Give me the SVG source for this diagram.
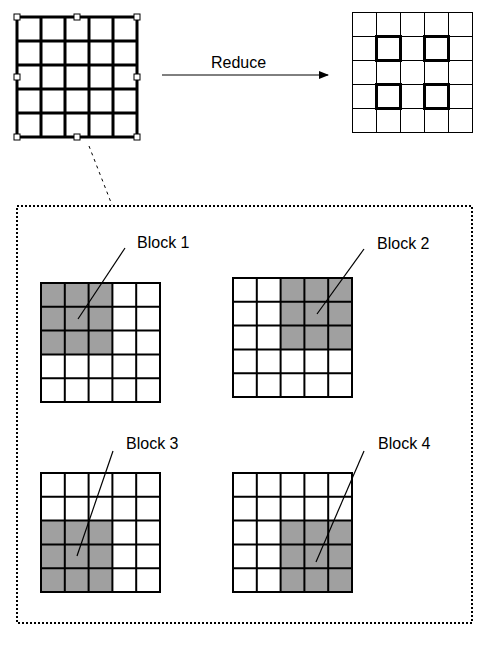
<svg xmlns="http://www.w3.org/2000/svg" xmlns:xlink="http://www.w3.org/1999/xlink" width="486" height="655" viewBox="0 0 486 655">
<style>
.lbl{font-family:"Liberation Sans",Arial,sans-serif;font-size:16px;fill:#000}
.g5{stroke:#000;stroke-width:2;fill:none}
.gray{fill:#a0a0a0;stroke:none}
.thin{stroke:#000;stroke-width:1;fill:none}
.bold{stroke:#000;stroke-width:3;fill:none}
.handle{fill:#fff;stroke:#000;stroke-width:1}
.lead{stroke:#000;stroke-width:1.2;fill:none}
</style>
<defs>
<g id="grid5" class="g5">
<rect x="0" y="0" width="119" height="119"/>
<path d="M23.8 0V119M47.6 0V119M71.4 0V119M95.2 0V119M0 23.8H119M0 47.6H119M0 71.4H119M0 95.2H119"/>
</g>
<marker id="arr" markerWidth="10" markerHeight="8" refX="9" refY="4" orient="auto" markerUnits="userSpaceOnUse">
<path d="M0 0L10 4L0 8Z" fill="#000"/>
</marker>
</defs>
<rect width="486" height="655" fill="#fff"/>

<g id="source-grid">
<rect x="17" y="17" width="120" height="120" fill="#fff" class="bold"/>
<path class="bold" d="M41 17V137M65 17V137M89 17V137M113 17V137M17 41H137M17 65H137M17 89H137M17 113H137"/>
<rect class="handle" x="14" y="14" width="6" height="6"/>
<rect class="handle" x="74" y="14" width="6" height="6"/>
<rect class="handle" x="134" y="14" width="6" height="6"/>
<rect class="handle" x="14" y="74" width="6" height="6"/>
<rect class="handle" x="134" y="74" width="6" height="6"/>
<rect class="handle" x="14" y="134" width="6" height="6"/>
<rect class="handle" x="74" y="134" width="6" height="6"/>
<rect class="handle" x="134" y="134" width="6" height="6"/>
</g>

<g id="reduced-grid">
<rect x="352.5" y="12.5" width="120" height="120" fill="#fff" class="thin"/>
<path class="thin" d="M376.5 12.5V132.5M400.5 12.5V132.5M424.5 12.5V132.5M448.5 12.5V132.5M352.5 36.5H472.5M352.5 60.5H472.5M352.5 84.5H472.5M352.5 108.5H472.5"/>
<rect class="bold" x="376.5" y="36.5" width="24" height="24"/>
<rect class="bold" x="424.5" y="36.5" width="24" height="24"/>
<rect class="bold" x="376.5" y="84.5" width="24" height="24"/>
<rect class="bold" x="424.5" y="84.5" width="24" height="24"/>
</g>

<g id="detail-box">
<rect x="17" y="206" width="455" height="417" fill="none" stroke="#000" stroke-width="2" stroke-dasharray="2 2"/>
</g>

<g id="block1">
<rect class="gray" x="41" y="283" width="71.4" height="71.4"/>
<use xlink:href="#grid5" href="#grid5" x="41" y="283"/>
<text class="lbl" x="137" y="248">Block 1</text>
</g>
<g id="block2">
<rect class="gray" x="280.6" y="278" width="71.4" height="71.4"/>
<use xlink:href="#grid5" href="#grid5" x="233" y="278"/>
<text class="lbl" x="377" y="249">Block 2</text>
</g>
<g id="block3">
<rect class="gray" x="41" y="520.6" width="71.4" height="71.4"/>
<use xlink:href="#grid5" href="#grid5" x="41" y="473"/>
<text class="lbl" x="126" y="449">Block 3</text>
</g>
<g id="block4">
<rect class="gray" x="280.6" y="520.6" width="71.4" height="71.4"/>
<use xlink:href="#grid5" href="#grid5" x="233" y="473"/>
<text class="lbl" x="378" y="449">Block 4</text>
</g>

<g id="reduce-label">
<text class="lbl" x="211" y="68">Reduce</text>
</g>

<g id="connectors">
<line x1="162" y1="75" x2="328" y2="75" stroke="#000" stroke-width="1" marker-end="url(#arr)"/>
<line x1="89" y1="146" x2="112" y2="205" stroke="#000" stroke-width="1" stroke-dasharray="3 4"/>
<line class="lead" x1="125" y1="248" x2="78" y2="319"/>
<line class="lead" x1="364" y1="249" x2="317" y2="314"/>
<line class="lead" x1="113" y1="451" x2="77" y2="556" stroke-width="1.6"/>
<line class="lead" x1="364" y1="451" x2="316" y2="562" stroke-width="1.6"/>
</g>
</svg>
